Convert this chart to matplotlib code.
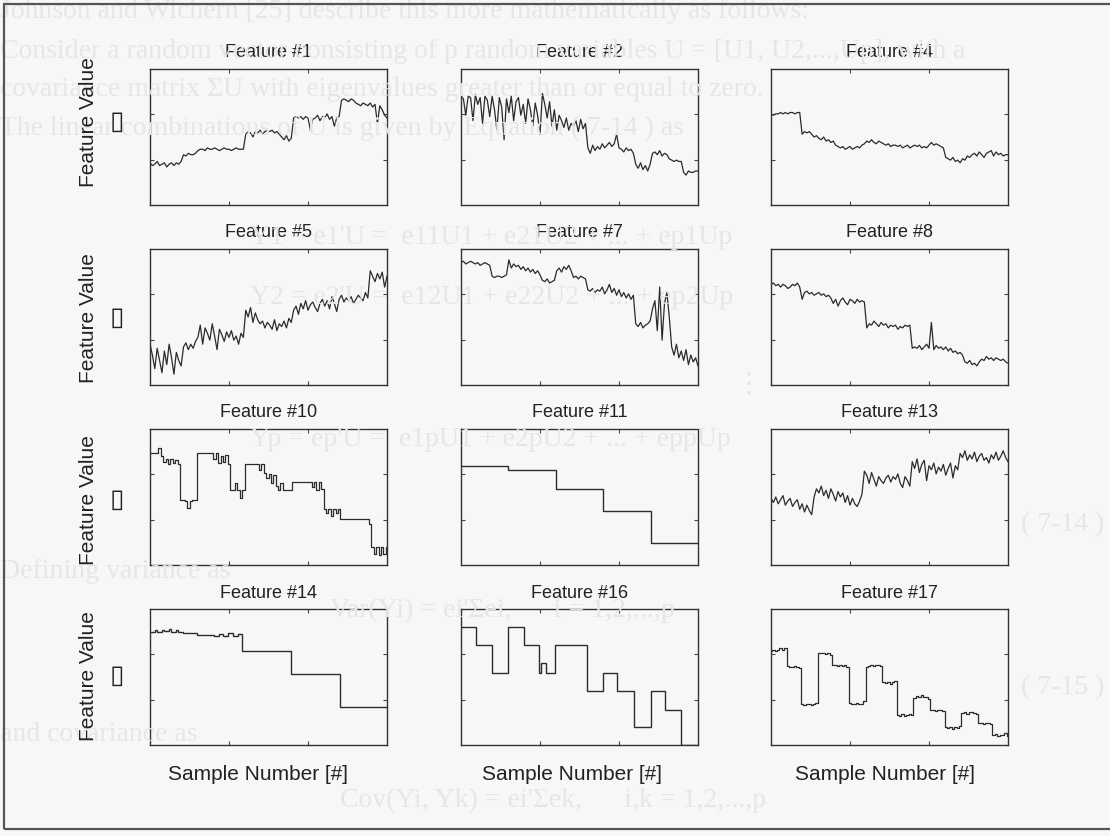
import matplotlib.pyplot as plt
import numpy as np
from matplotlib.patches import Rectangle

plt.rcParams['font.family'] = ['Liberation Sans', 'DejaVu Sans']

# 每个面板的标题
titles = ['Feature #1', 'Feature #2', 'Feature #4',
          'Feature #5', 'Feature #7', 'Feature #8',
          'Feature #10', 'Feature #11', 'Feature #13',
          'Feature #14', 'Feature #16', 'Feature #17']

# 数值按坐标框高度归一化 (0 = 底, 1 = 顶)
feat1 = [0.31, 0.29, 0.30, 0.32, 0.29, 0.30, 0.31, 0.28, 0.30, 0.31, 0.29, 0.31, 0.30, 0.32,
         0.37, 0.36, 0.38, 0.37, 0.37, 0.38,
         0.40, 0.41, 0.41, 0.40, 0.42, 0.41, 0.41, 0.42, 0.41, 0.40, 0.41, 0.42, 0.41, 0.41, 0.40, 0.41, 0.42, 0.41, 0.41, 0.41,
         0.52, 0.54, 0.53, 0.50, 0.54, 0.53, 0.55, 0.52, 0.54, 0.55, 0.54, 0.55, 0.53, 0.54, 0.52, 0.50, 0.48, 0.51, 0.47, 0.49,
         0.64, 0.65, 0.64, 0.65, 0.63, 0.65, 0.64, 0.55, 0.63, 0.64, 0.66, 0.62, 0.65, 0.64, 0.67, 0.63, 0.65, 0.58, 0.64, 0.65,
         0.77, 0.78, 0.77, 0.76, 0.78, 0.77, 0.75, 0.74, 0.73, 0.75, 0.74, 0.73, 0.75, 0.72, 0.74, 0.60, 0.73, 0.70, 0.66, 0.64]

feat2 = [0.80, 0.78, 0.66, 0.80, 0.79, 0.62, 0.81, 0.74, 0.79, 0.60, 0.80, 0.77, 0.65, 0.80, 0.70, 0.55, 0.79, 0.72,
         0.48, 0.78, 0.68, 0.80, 0.62, 0.76, 0.79, 0.66, 0.74, 0.60, 0.78, 0.70, 0.58, 0.75, 0.66, 0.52, 0.82, 0.74,
         0.64, 0.76, 0.58, 0.70, 0.55, 0.66, 0.62, 0.57, 0.64, 0.55, 0.60, 0.58, 0.62, 0.54, 0.63, 0.56, 0.60,
         0.42, 0.38, 0.44, 0.40, 0.43, 0.41, 0.45, 0.42, 0.44, 0.46, 0.43, 0.45, 0.52, 0.42, 0.41, 0.39, 0.42, 0.40, 0.41, 0.38,
         0.30, 0.27, 0.31, 0.26, 0.29, 0.25, 0.30,
         0.38, 0.39, 0.37, 0.40, 0.36, 0.38, 0.37, 0.34, 0.33, 0.32, 0.33, 0.32, 0.32,
         0.24, 0.22, 0.25, 0.24, 0.24, 0.25, 0.25]

feat4 = [0.67, 0.66, 0.67, 0.67, 0.68, 0.67, 0.68, 0.67, 0.68, 0.68, 0.67, 0.68, 0.68,
         0.52, 0.54, 0.53, 0.54, 0.52, 0.50, 0.51, 0.49,
         0.48, 0.50, 0.47, 0.48, 0.46, 0.47, 0.44,
         0.43, 0.42, 0.43, 0.41, 0.42, 0.43, 0.41, 0.42, 0.43, 0.42, 0.44,
         0.45, 0.47, 0.46, 0.48, 0.46, 0.45, 0.47, 0.46, 0.45, 0.44, 0.45, 0.43, 0.44,
         0.44, 0.43, 0.44, 0.42, 0.43, 0.44, 0.42, 0.43, 0.44, 0.43, 0.44, 0.42, 0.43, 0.42, 0.44, 0.46, 0.44, 0.45, 0.44, 0.43, 0.42,
         0.35, 0.34, 0.33, 0.35, 0.32, 0.33, 0.31, 0.34, 0.33,
         0.36, 0.35, 0.37, 0.38, 0.36, 0.39, 0.37, 0.35, 0.38, 0.39, 0.40, 0.36, 0.39, 0.37, 0.38, 0.36, 0.37, 0.37]

feat5 = [0.30, 0.22, 0.12, 0.27, 0.18, 0.09, 0.25, 0.15, 0.30, 0.20, 0.08, 0.24, 0.18, 0.14,
         0.28, 0.31, 0.26, 0.30, 0.27, 0.32,
         0.35, 0.44, 0.30, 0.42, 0.38, 0.33, 0.45, 0.36, 0.26, 0.41, 0.37, 0.32, 0.39, 0.35, 0.40, 0.33, 0.36, 0.30, 0.38, 0.35,
         0.55, 0.50, 0.57, 0.46, 0.53, 0.48, 0.45, 0.47, 0.42, 0.46, 0.44, 0.41, 0.48, 0.40, 0.45, 0.43, 0.47, 0.42, 0.49, 0.46,
         0.55, 0.58, 0.52, 0.60, 0.56, 0.62, 0.55, 0.59, 0.61, 0.57, 0.54, 0.60, 0.63, 0.58, 0.62, 0.56,
         0.65, 0.60, 0.54, 0.63, 0.66, 0.61, 0.64, 0.62, 0.65, 0.60, 0.63, 0.66, 0.64, 0.62, 0.68, 0.64,
         0.84, 0.80, 0.76, 0.82, 0.78, 0.83, 0.72, 0.80]

feat7 = [0.90, 0.91, 0.89, 0.90, 0.91, 0.90, 0.89, 0.90, 0.88, 0.89, 0.90, 0.89, 0.88,
         0.80, 0.79, 0.80, 0.80, 0.79, 0.80, 0.81,
         0.92, 0.86, 0.89, 0.87, 0.88, 0.85, 0.87, 0.84, 0.86, 0.83, 0.85, 0.82, 0.84, 0.81,
         0.77, 0.76, 0.78, 0.75, 0.76, 0.77,
         0.84, 0.86, 0.83, 0.87, 0.85, 0.88, 0.84,
         0.79, 0.80, 0.78, 0.80, 0.79, 0.78,
         0.70, 0.69, 0.71, 0.68, 0.70, 0.69, 0.72, 0.67, 0.70, 0.74, 0.68, 0.71, 0.66, 0.70, 0.65, 0.68, 0.64, 0.67, 0.63, 0.66,
         0.45, 0.43, 0.46, 0.42, 0.44, 0.45, 0.47,
         0.56, 0.62, 0.40, 0.72, 0.33, 0.60, 0.68, 0.50,
         0.28, 0.22, 0.30, 0.20, 0.25, 0.18, 0.26, 0.15, 0.22, 0.17, 0.20, 0.14]

feat8 = [0.74, 0.75, 0.73, 0.74, 0.72, 0.74, 0.73, 0.71, 0.72, 0.74, 0.73, 0.75, 0.72,
         0.63, 0.68, 0.69, 0.67, 0.68, 0.66, 0.67, 0.68, 0.66, 0.67, 0.65, 0.66, 0.64,
         0.60, 0.63, 0.58, 0.62, 0.64, 0.61, 0.59, 0.63, 0.62, 0.60, 0.63, 0.61, 0.62, 0.61,
         0.42, 0.45, 0.44, 0.47, 0.45, 0.43, 0.46, 0.44, 0.45, 0.42, 0.44, 0.43, 0.44, 0.41, 0.43, 0.42, 0.44, 0.43, 0.44,
         0.27, 0.28, 0.27, 0.29, 0.26, 0.28, 0.30, 0.27, 0.46, 0.26, 0.29, 0.27, 0.28, 0.26, 0.28, 0.25, 0.27, 0.24, 0.25, 0.23, 0.24, 0.22,
         0.17, 0.16, 0.18, 0.15, 0.16, 0.14, 0.17, 0.19, 0.18, 0.21, 0.19, 0.20, 0.18, 0.20, 0.19, 0.18, 0.19, 0.17, 0.16]

feat10 = [0.82, 0.82, 0.82, 0.82,
          0.86, 0.80, 0.76, 0.78, 0.74, 0.78, 0.75, 0.77, 0.74,
          0.48, 0.48, 0.47, 0.42, 0.47, 0.48, 0.48,
          0.82, 0.82, 0.82, 0.82, 0.82, 0.82, 0.82,
          0.78, 0.82, 0.75, 0.80, 0.76, 0.81, 0.74,
          0.55, 0.55, 0.60, 0.55, 0.49, 0.55,
          0.74, 0.74, 0.74, 0.74, 0.74, 0.74, 0.70, 0.74, 0.68,
          0.64, 0.67, 0.60, 0.66, 0.58,
          0.55, 0.60, 0.55, 0.55, 0.55, 0.55,
          0.61, 0.61, 0.61, 0.61, 0.61, 0.61, 0.61, 0.61, 0.57, 0.61, 0.55, 0.61, 0.56,
          0.41, 0.38, 0.41, 0.36, 0.41, 0.38, 0.41,
          0.34, 0.34, 0.34, 0.34, 0.34, 0.34, 0.34, 0.34, 0.34, 0.34, 0.34, 0.34, 0.30,
          0.13, 0.08, 0.13, 0.07, 0.13, 0.08, 0.13]

feat11_edges = [0, 20, 40, 60, 80, 100]
feat11_levels = [0.73, 0.70, 0.56, 0.40, 0.16]

feat13 = [0.49, 0.46, 0.50, 0.45, 0.48, 0.51, 0.44, 0.47, 0.49, 0.43, 0.46, 0.48, 0.41, 0.45, 0.39, 0.44, 0.40, 0.37,
          0.50, 0.56, 0.53, 0.58, 0.51, 0.55, 0.49, 0.56, 0.52, 0.47, 0.54, 0.50, 0.53, 0.46, 0.51, 0.44, 0.49, 0.45, 0.43, 0.47,
          0.52, 0.69, 0.66, 0.60, 0.68, 0.63, 0.58, 0.65, 0.62, 0.60, 0.64, 0.66, 0.61, 0.65, 0.63, 0.67, 0.60, 0.57, 0.65, 0.62, 0.58,
          0.76, 0.71, 0.78, 0.68, 0.74, 0.77, 0.62, 0.73, 0.70, 0.75, 0.67, 0.72, 0.69, 0.74, 0.66, 0.71, 0.75, 0.64, 0.73, 0.70,
          0.82, 0.79, 0.84, 0.77, 0.81, 0.78, 0.83, 0.76, 0.80, 0.82, 0.77, 0.79, 0.75, 0.81, 0.78, 0.83, 0.77, 0.80, 0.84, 0.79, 0.76]

feat14_edges = [0, 2, 3, 5, 6, 8, 9, 11, 12, 14, 20, 27, 29, 31, 33, 35, 37, 39, 59.5, 80, 100]
feat14_levels = [0.83, 0.845, 0.83, 0.845, 0.835, 0.85, 0.83, 0.845, 0.83, 0.82,
                 0.81, 0.80, 0.815, 0.80, 0.82, 0.805, 0.815, 0.69, 0.52, 0.28]

feat16_edges = [0, 6.4, 13, 20, 26.5, 33, 33.7, 36, 39.5, 53, 60, 66, 73, 80, 86, 93, 100]
feat16_levels = [0.87, 0.735, 0.53, 0.87, 0.735, 0.53, 0.60, 0.53, 0.735, 0.40,
                 0.53, 0.40, 0.13, 0.40, 0.26, 0.0]

feat17 = [0.69, 0.70, 0.69, 0.70, 0.71, 0.70, 0.71,
          0.58, 0.575, 0.57, 0.58, 0.575, 0.565,
          0.30, 0.295, 0.30, 0.30, 0.295, 0.30, 0.31,
          0.68, 0.675, 0.68, 0.67, 0.68, 0.665,
          0.59, 0.585, 0.58, 0.59, 0.58, 0.585, 0.575,
          0.31, 0.305, 0.30, 0.31, 0.30, 0.305, 0.32,
          0.575, 0.58, 0.585, 0.58, 0.59, 0.585, 0.58,
          0.46, 0.455, 0.46, 0.45, 0.465, 0.47,
          0.22, 0.21, 0.225, 0.215, 0.22, 0.23, 0.22,
          0.345, 0.36, 0.35, 0.365, 0.355, 0.35, 0.34,
          0.26, 0.255, 0.25, 0.26, 0.255, 0.25,
          0.135, 0.125, 0.13, 0.12, 0.13, 0.125, 0.14,
          0.235, 0.24, 0.23, 0.245, 0.24, 0.235, 0.23,
          0.16, 0.165, 0.155, 0.16, 0.16, 0.155,
          0.07, 0.08, 0.065, 0.075, 0.07, 0.085, 0.065]

# 背景中透过来的淡色正文 (扫描件): (x, y, 对齐, 文字)
ghost_lines = [
    (0, 12, 'left', "Johnson and Wichern [25] describe this more mathematically as follows:"),
    (0, 51, 'left', "Consider a random vector consisting of p random variables U = [U1, U2,...,Up], with a"),
    (0, 90, 'left', "covariance matrix \u03a3U with eigenvalues greater than or equal to zero."),
    (0, 128, 'left', "The linear combinations of U is given by Equation ( 7-14 ) as"),
    (250, 238, 'left', "Y1 = e1'U =  e11U1 + e21U2 + ... + ep1Up"),
    (250, 298, 'left', "Y2 = e2'U =  e12U1 + e22U2 + ... + ep2Up"),
    (735, 385, 'left', "\u22ee"),
    (250, 440, 'left', "Yp = ep'U =  e1pU1 + e2pU2 + ... + eppUp"),
    (1104, 525, 'right', "( 7-14 )"),
    (0, 572, 'left', "Defining variance as"),
    (330, 610, 'left', "Var(Yi) = ei'\u03a3ei,      i = 1,2,...,p"),
    (1104, 688, 'right', "( 7-15 )"),
    (0, 735, 'left', "and covariance as"),
    (340, 800, 'left', "Cov(Yi, Yk) = ei'\u03a3ek,      i,k = 1,2,...,p"),
]

W, H = 1110, 837
fig = plt.figure(figsize=(W / 100, H / 100), dpi=100)
fig.patch.set_facecolor('#f7f7f5')

for gx, gy, gha, gtext in ghost_lines:
    fig.text(gx / W, 1 - gy / H, gtext, color='#e6e6e4', fontsize=20,
             family=['Liberation Serif', 'DejaVu Serif', 'DejaVu Sans'],
             va='center', ha=gha, zorder=0)

# 外框
fig.patches.append(Rectangle((4 / W, 1 - 830 / H), 1.2, (830 - 5) / H, transform=fig.transFigure,
                             fill=False, edgecolor='#555555', linewidth=1.6, zorder=1))

col_left = [150, 461, 771]
row_top = [70, 250, 430, 610]
ax_w, ax_h = 237, 136

series = [('line', feat1), ('line', feat2), ('line', feat4),
          ('line', feat5), ('line', feat7), ('line', feat8),
          ('steps', feat10), ('stairs', (feat11_edges, feat11_levels)), ('line', feat13),
          ('stairs', (feat14_edges, feat14_levels)), ('stairs', (feat16_edges, feat16_levels)), ('steps', feat17)]

ink = '#2b2b2b'
for i, (kind, data) in enumerate(series):
    r, c = divmod(i, 3)
    ax = fig.add_axes([col_left[c] / W, 1 - (row_top[r] + ax_h) / H, ax_w / W, ax_h / H])
    ax.set_facecolor('none')
    if kind == 'stairs':
        edges, levels = data
        ax.stairs(levels, edges, color=ink, linewidth=1.0, baseline=None)
        xmax = edges[-1]
    else:
        x = np.arange(len(data))
        ds = 'steps-mid' if kind == 'steps' else 'default'
        ax.plot(x, data, color=ink, linewidth=0.9, drawstyle=ds)
        xmax = len(data) - 1
    ax.set_xlim(0, xmax)
    ax.set_ylim(0, 1)
    ax.set_xticks([xmax / 3, 2 * xmax / 3])
    ax.set_yticks([1 / 3, 2 / 3])
    ax.tick_params(direction='in', length=3, width=0.8, top=True, right=True,
                   labelbottom=False, labelleft=False, colors='#444444')
    for s in ax.spines.values():
        s.set_color('#333333')
        s.set_linewidth(1.0)
    ax.set_title(titles[i], fontsize=13, color='#222222', pad=9)

# 纵轴标签 (每行一个) 和单位方框
label_y = [122, 318, 500, 676]
for ly in label_y:
    fig.text(88 / W, 1 - ly / H, 'Feature Value', rotation=90, fontsize=15,
             ha='center', va='center', color='#222222')
    fig.text(117 / W, 1 - ly / H, '\u25af', fontsize=19,
             family='DejaVu Sans', ha='center', va='center', color='#222222')

# 横轴标签
for xc in [258, 572, 885]:
    fig.text(xc / W, 1 - 775 / H, 'Sample Number [#]', fontsize=15,
             family=['Liberation Sans Narrow', 'Liberation Sans', 'DejaVu Sans'],
             ha='center', va='center', color='#222222')

fig.savefig('out.png', dpi=100, facecolor=fig.get_facecolor())
